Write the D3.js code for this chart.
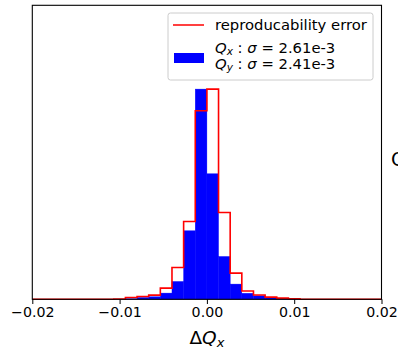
<!DOCTYPE html>
<html>
<head>
<meta charset="utf-8">
<script src="https://cdn.jsdelivr.net/npm/d3@7"></script>
<style>
  html, body { margin: 0; padding: 0; background: #fff; }
  svg { display: block; font-family: "DejaVu Sans", sans-serif; }
</style>
</head>
<body>
<svg id="chart" width="398" height="352"></svg>
<script>
// ---- data ----
const binStart = -0.02;
const binEnd = 0.02;
const binCount = 30;
// red step histogram (reproducability error)
const errorCounts = [0,0,0,0,0,0,0,0.3,1.8,2.8,4.2,11.2,31.8,77.8,188.5,210.2,86.8,26.2,8.3,4.3,2.2,1.2,0.5,0,0,0,0,0,0,0];
// blue filled histogram
const tuneCounts  = [0,0,0,0,0,0,0,0,0.5,1.8,2.5,6.2,17.8,68.5,210.2,125.5,42.8,15.2,6.0,3.5,2.0,1.0,0.3,0,0,0,0,0,0,0];
const xTicks = [-0.02, -0.01, 0.0, 0.01, 0.02];
const xTickLabels = ["\u22120.02", "\u22120.01", "0.00", "0.01", "0.02"];
const yMax = 294;

const edges = d3.range(binCount + 1).map(i => binStart + i * (binEnd - binStart) / binCount);

const svg = d3.select("#chart");
const mLeft = 32.3, mRight = 381.5, mTop = 5.3, mBottom = 299.3;

const x = d3.scaleLinear().domain([binStart, binEnd]).range([mLeft, mRight]);
const y = d3.scaleLinear().domain([0, yMax]).range([mBottom, mTop]);

// blue bars
svg.append("g").selectAll("rect")
  .data(tuneCounts)
  .join("rect")
  .attr("x", (d, i) => x(edges[i]))
  .attr("width", (d, i) => x(edges[i + 1]) - x(edges[i]))
  .attr("y", d => y(d))
  .attr("height", d => y(0) - y(d))
  .attr("fill", "#0000ff")
  .attr("stroke", "#0000ff")
  .attr("stroke-width", 0.4);

// red step outline
const stepPts = [[edges[0], 0]];
errorCounts.forEach((d, i) => { stepPts.push([edges[i], d]); stepPts.push([edges[i + 1], d]); });
stepPts.push([edges[binCount], 0]);
svg.append("path")
  .attr("d", d3.line().x(p => x(p[0])).y(p => y(p[1]))(stepPts))
  .attr("fill", "none")
  .attr("stroke", "#ff0000")
  .attr("stroke-width", 1.6)
  .attr("stroke-linejoin", "miter");

// x axis
const xAxis = d3.axisBottom(x).tickValues(xTicks)
  .tickFormat((d, i) => xTickLabels[i]).tickSize(4.7).tickPadding(3.2);
const gx = svg.append("g").attr("transform", `translate(0,${mBottom})`).call(xAxis);
gx.select(".domain").remove();
gx.selectAll(".tick line").attr("stroke", "#000").attr("stroke-width", 1);
gx.selectAll(".tick text").attr("font-size", 14.2).attr("fill", "#000")
  .attr("font-family", "DejaVu Sans");

// frame
svg.append("rect").attr("x", mLeft).attr("y", mTop)
  .attr("width", mRight - mLeft).attr("height", mBottom - mTop)
  .attr("fill", "none").attr("stroke", "#000").attr("stroke-width", 1.1);

// x label
const xl = svg.append("text").attr("x", x(0)).attr("y", 344)
  .attr("text-anchor", "middle").attr("font-size", 18.5);
xl.append("tspan").text("\u0394");
xl.append("tspan").attr("font-style", "italic").text("Q");
xl.append("tspan").attr("font-style", "italic").attr("font-size", 13).attr("dy", 3).text("x");

// cut-off label from neighbouring panel
svg.append("text").attr("x", 391).attr("y", 166).attr("font-size", 19).text("Q");

// legend
const lg = svg.append("g");
lg.append("rect").attr("x", 168).attr("y", 13).attr("width", 205).attr("height", 67)
  .attr("rx", 2.5).attr("fill", "#fff").attr("fill-opacity", 0.8)
  .attr("stroke", "#cccccc").attr("stroke-width", 1);
lg.append("line").attr("x1", 173).attr("x2", 204).attr("y1", 25).attr("y2", 25)
  .attr("stroke", "#ff0000").attr("stroke-width", 1.5);
lg.append("text").attr("x", 215).attr("y", 30).attr("font-size", 14.8).text("reproducability error");
lg.append("rect").attr("x", 174).attr("y", 53).attr("width", 30).attr("height", 10).attr("fill", "#0000ff");

function sigmaLine(yy, sub, val) {
  const t = lg.append("text").attr("x", 215).attr("y", yy).attr("font-size", 14.8);
  t.append("tspan").attr("font-style", "italic").text("Q");
  t.append("tspan").attr("font-style", "italic").attr("font-size", 10.5).attr("dy", 2.5).text(sub);
  t.append("tspan").attr("dy", -2.5).text(" : ");
  t.append("tspan").attr("font-style", "italic").text("\u03c3");
  t.append("tspan").text(" = " + val);
}
sigmaLine(52.5, "x", "2.61e-3");
sigmaLine(68.5, "y", "2.41e-3");
</script>
</body>
</html>
